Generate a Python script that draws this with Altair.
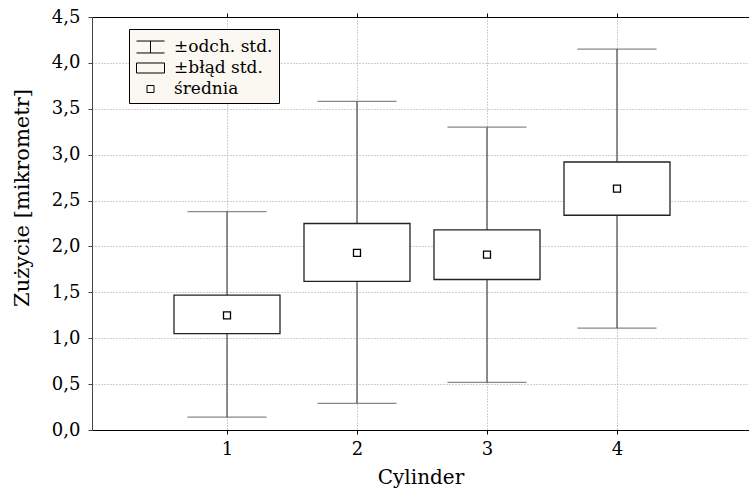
import altair as alt
import pandas as pd

# --- data ---
cylinders = [1, 2, 3, 4]
means = [1.25, 1.93, 1.91, 2.63]
se_low = [1.05, 1.62, 1.64, 2.34]
se_high = [1.47, 2.25, 2.18, 2.92]
sd_low = [0.14, 0.29, 0.52, 1.11]
sd_high = [2.38, 3.58, 3.30, 4.15]
y_ticks = [0.0, 0.5, 1.0, 1.5, 2.0, 2.5, 3.0, 3.5, 4.0, 4.5]
legend_items = ["±odch. std.", "±błąd std.", "średnia"]

df = pd.DataFrame({
    "cyl": cylinders, "mean": means,
    "se_lo": se_low, "se_hi": se_high,
    "sd_lo": sd_low, "sd_hi": sd_high,
})
leg_df = pd.DataFrame({"item": legend_items})

FONT = "DejaVu Serif"
xs = alt.Scale(domain=[0, 4.977], nice=False, zero=False)
ys = alt.Scale(domain=[0, 4.5], nice=False, zero=False)

y_axis = alt.Axis(
    values=y_ticks,
    labelExpr="replace(format(datum.value, '.1f'), '.', ',')",
    title="Zużycie [mikrometr]",
    titleX=-64, titleY=180.5, titleBaseline="alphabetic", titleAngle=-90,
    titleFontSize=21, titleFont=FONT, titleFontWeight="normal", titleColor="black",
    labelFont=FONT, labelFontSize=18, labelColor="black", labelPadding=8,
    tickSize=4, tickColor="#444", domainColor="#444",
    grid=True, gridDash=[1, 2], gridColor="#a0a0a0",
)
x_axis_bottom = alt.Axis(
    orient="bottom", values=cylinders, format="d",
    title="Cylinder", titleY=53, titleBaseline="alphabetic",
    titleFontSize=20, titleFont=FONT, titleFontWeight="normal", titleColor="black",
    labelFont=FONT, labelFontSize=18, labelColor="black", labelPadding=6,
    tickSize=4, tickColor="black", domainColor="black",
    grid=True, gridDash=[1, 2], gridColor="#a0a0a0",
)
x_axis_top = alt.Axis(
    orient="top", values=cylinders, labels=False, title=None,
    tickSize=4, tickColor="black", domainColor="black", grid=False,
)

base = alt.Chart(df)
Y = lambda f: alt.Y(f, type="quantitative", scale=ys, axis=y_axis)

whisker = base.mark_rule(color="#555555", strokeWidth=1.3).encode(
    x=alt.X("cyl:Q", scale=xs, axis=x_axis_bottom),
    y=Y("sd_lo"), y2="sd_hi:Q",
)
cap_lo = base.mark_tick(orient="horizontal", size=79, thickness=1.3, color="#555555").encode(
    x=alt.X("cyl:Q", scale=xs, axis=x_axis_top),
    y=Y("sd_lo"),
)
cap_hi = base.mark_tick(orient="horizontal", size=79, thickness=1.3, color="#555555").encode(
    x=alt.X("cyl:Q", scale=xs, axis=None),
    y=Y("sd_hi"),
)
box = base.mark_bar(size=106, fill="white", stroke="#222222", strokeWidth=1.3).encode(
    x=alt.X("cyl:Q", scale=xs, axis=None),
    y=Y("se_lo"), y2="se_hi:Q",
)
mean_pt = base.mark_square(size=49, filled=True, fill="white", stroke="black",
                           strokeWidth=1.3, opacity=1).encode(
    x=alt.X("cyl:Q", scale=xs, axis=None),
    y=Y("mean"),
)

paths = [
    "M-1.217,-0.52H1.217M0,-0.52V0.52M-1.217,0.52H1.217",
    "M-1.217,-0.435H1.217V0.435H-1.217Z",
    "M-0.304,-0.304H0.304V0.304H-0.304Z",
]
legend_layer = alt.Chart(leg_df).transform_filter("datum.item == 'none'").mark_point(
    filled=False, color="black", strokeWidth=1, opacity=1
).encode(
    shape=alt.Shape(
        "item:N",
        scale=alt.Scale(domain=legend_items, range=paths),
        legend=alt.Legend(
            title=None, orient="none", legendX=37, legendY=12,
            fillColor="#faf8f0", strokeColor="black", padding=6,
            symbolSize=529, symbolStrokeWidth=1, symbolOffset=3.5,
            labelFont=FONT, labelFontSize=17, labelColor="black",
            labelOffset=11.5, rowPadding=1,
        ),
    )
)

chart = alt.layer(whisker, cap_lo, cap_hi, box, mean_pt, legend_layer).resolve_axis(
    x="independent"
).properties(
    width=657, height=413,
    autosize=alt.AutoSizeParams(type="none"),
    padding={"left": 92, "top": 17, "right": 0, "bottom": 58},
).configure_view(stroke=None).configure(font=FONT)

chart.save("out.html", embed_options={"renderer": "svg", "actions": False})
